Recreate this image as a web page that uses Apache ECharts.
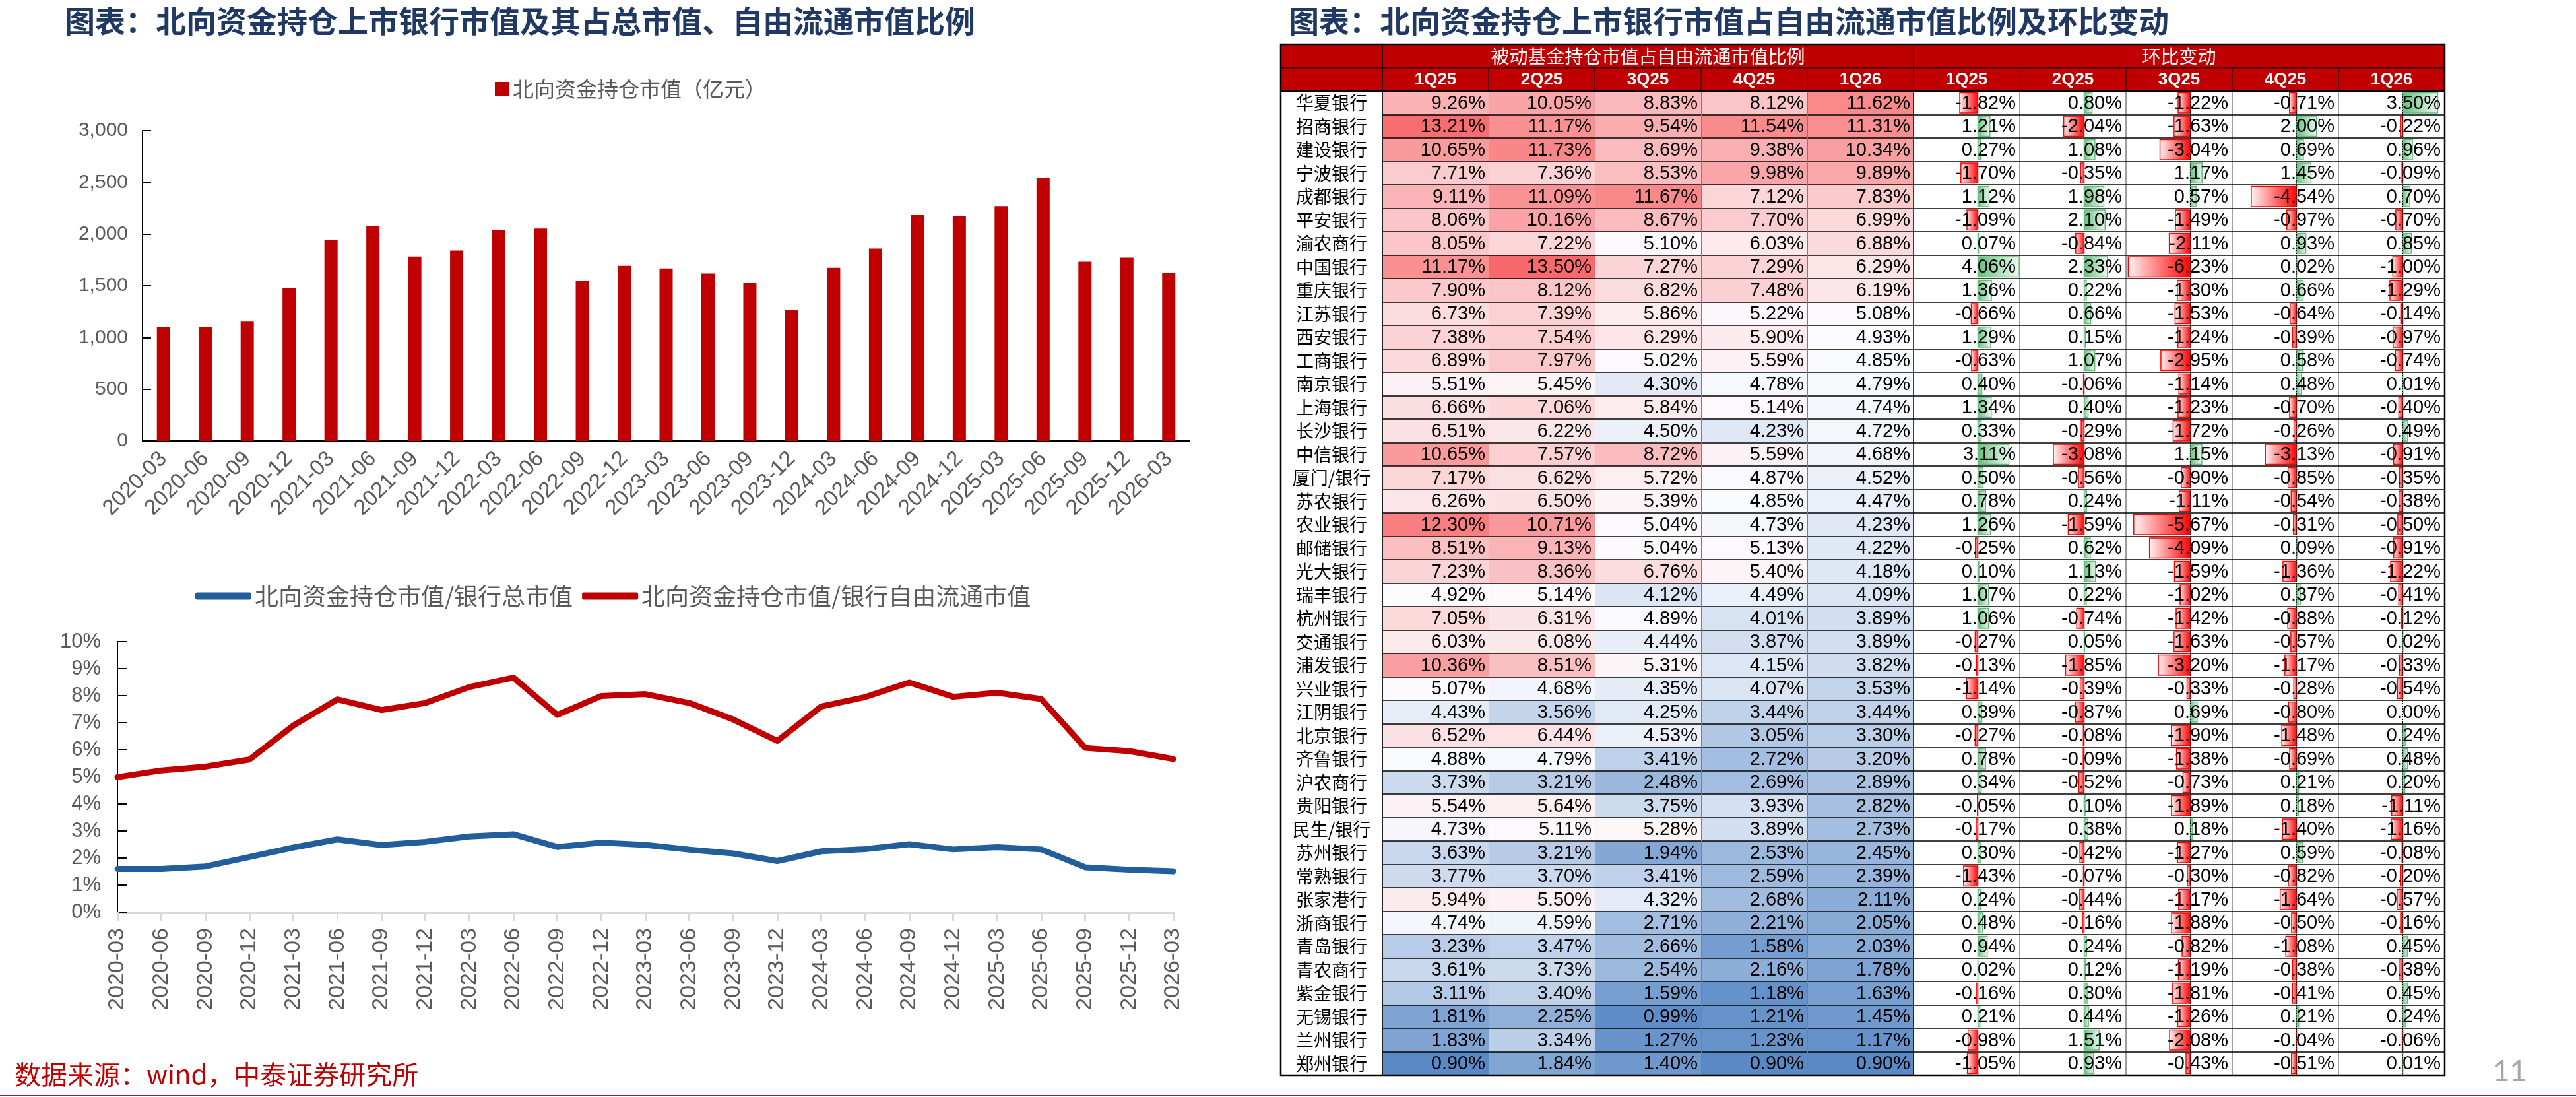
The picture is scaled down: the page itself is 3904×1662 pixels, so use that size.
<!DOCTYPE html>
<html>
<head>
<meta charset="utf-8">
<script src="https://cdn.jsdelivr.net/npm/echarts@6/dist/echarts.min.js"></script>
<style>
  html, body { margin: 0; padding: 0; background: #fff; }
  #main { width: 3904px; height: 1662px; }
</style>
</head>
<body>
<div id="main"></div>
<script>
// 左侧：北向资金持仓市值及比例
var dates = ['2020-03', '2020-06', '2020-09', '2020-12', '2021-03', '2021-06', '2021-09', '2021-12',
  '2022-03', '2022-06', '2022-09', '2022-12', '2023-03', '2023-06', '2023-09', '2023-12',
  '2024-03', '2024-06', '2024-09', '2024-12', '2025-03', '2025-06', '2025-09', '2025-12', '2026-03'];
var holdValue = [1104, 1104, 1153, 1480, 1942, 2080, 1782, 1841, 2041, 2054, 1546, 1693, 1667,
  1618, 1526, 1271, 1674, 1860, 2188, 2175, 2270, 2542, 1733, 1772, 1628];
var ratioTotal = [1.60, 1.60, 1.69, 2.04, 2.39, 2.69, 2.48, 2.60, 2.80, 2.88, 2.41, 2.57, 2.49,
  2.31, 2.17, 1.89, 2.25, 2.33, 2.51, 2.32, 2.40, 2.32, 1.66, 1.57, 1.51];
var ratioFree = [4.99, 5.24, 5.38, 5.64, 6.90, 7.86, 7.47, 7.73, 8.32, 8.67, 7.29, 7.99, 8.06,
  7.73, 7.12, 6.33, 7.60, 7.95, 8.49, 7.96, 8.11, 7.88, 6.07, 5.95, 5.66];

// 右侧表格
var banks = ['华夏银行', '招商银行', '建设银行', '宁波银行', '成都银行', '平安银行', '渝农商行', '中国银行',
  '重庆银行', '江苏银行', '西安银行', '工商银行', '南京银行', '上海银行', '长沙银行', '中信银行',
  '厦门/银行', '苏农银行', '农业银行', '邮储银行', '光大银行', '瑞丰银行', '杭州银行', '交通银行',
  '浦发银行', '兴业银行', '江阴银行', '北京银行', '齐鲁银行', '沪农商行', '贵阳银行', '民生/银行',
  '苏州银行', '常熟银行', '张家港行', '浙商银行', '青岛银行', '青农商行', '紫金银行', '无锡银行',
  '兰州银行', '郑州银行'];
var quarters = ['1Q25', '2Q25', '3Q25', '4Q25', '1Q26'];

var r1Q25 = [9.26, 13.21, 10.65, 7.71, 9.11, 8.06, 8.05, 11.17, 7.90, 6.73, 7.38, 6.89, 5.51, 6.66, 6.51, 10.65,
  7.17, 6.26, 12.30, 8.51, 7.23, 4.92, 7.05, 6.03, 10.36, 5.07, 4.43, 6.52, 4.88, 3.73, 5.54, 4.73,
  3.63, 3.77, 5.94, 4.74, 3.23, 3.61, 3.11, 1.81, 1.83, 0.90];
var r2Q25 = [10.05, 11.17, 11.73, 7.36, 11.09, 10.16, 7.22, 13.50, 8.12, 7.39, 7.54, 7.97, 5.45, 7.06, 6.22, 7.57,
  6.62, 6.50, 10.71, 9.13, 8.36, 5.14, 6.31, 6.08, 8.51, 4.68, 3.56, 6.44, 4.79, 3.21, 5.64, 5.11,
  3.21, 3.70, 5.50, 4.59, 3.47, 3.73, 3.40, 2.25, 3.34, 1.84];
var r3Q25 = [8.83, 9.54, 8.69, 8.53, 11.67, 8.67, 5.10, 7.27, 6.82, 5.86, 6.29, 5.02, 4.30, 5.84, 4.50, 8.72,
  5.72, 5.39, 5.04, 5.04, 6.76, 4.12, 4.89, 4.44, 5.31, 4.35, 4.25, 4.53, 3.41, 2.48, 3.75, 5.28,
  1.94, 3.41, 4.32, 2.71, 2.66, 2.54, 1.59, 0.99, 1.27, 1.40];
var r4Q25 = [8.12, 11.54, 9.38, 9.98, 7.12, 7.70, 6.03, 7.29, 7.48, 5.22, 5.90, 5.59, 4.78, 5.14, 4.23, 5.59,
  4.87, 4.85, 4.73, 5.13, 5.40, 4.49, 4.01, 3.87, 4.15, 4.07, 3.44, 3.05, 2.72, 2.69, 3.93, 3.89,
  2.53, 2.59, 2.68, 2.21, 1.58, 2.16, 1.18, 1.21, 1.23, 0.90];
var r1Q26 = [11.62, 11.31, 10.34, 9.89, 7.83, 6.99, 6.88, 6.29, 6.19, 5.08, 4.93, 4.85, 4.79, 4.74, 4.72, 4.68,
  4.52, 4.47, 4.23, 4.22, 4.18, 4.09, 3.89, 3.89, 3.82, 3.53, 3.44, 3.30, 3.20, 2.89, 2.82, 2.73,
  2.45, 2.39, 2.11, 2.05, 2.03, 1.78, 1.63, 1.45, 1.17, 0.90];

var c1Q25 = [-1.82, 1.21, 0.27, -1.70, 1.12, -1.09, 0.07, 4.06, 1.36, -0.66, 1.29, -0.63, 0.40, 1.34, 0.33, 3.11,
  0.50, 0.78, 1.26, -0.25, 0.10, 1.07, 1.06, -0.27, -0.13, -1.14, 0.39, -0.27, 0.78, 0.34, -0.05, -0.17,
  0.30, -1.43, 0.24, 0.48, 0.94, 0.02, -0.16, 0.21, -0.98, -1.05];
var c2Q25 = [0.80, -2.04, 1.08, -0.35, 1.98, 2.10, -0.84, 2.33, 0.22, 0.66, 0.15, 1.07, -0.06, 0.40, -0.29, -3.08,
  -0.56, 0.24, -1.59, 0.62, 1.13, 0.22, -0.74, 0.05, -1.85, -0.39, -0.87, -0.08, -0.09, -0.52, 0.10, 0.38,
  -0.42, -0.07, -0.44, -0.16, 0.24, 0.12, 0.30, 0.44, 1.51, 0.93];
var c3Q25 = [-1.22, -1.63, -3.04, 1.17, 0.57, -1.49, -2.11, -6.23, -1.30, -1.53, -1.24, -2.95, -1.14, -1.23, -1.72, 1.15,
  -0.90, -1.11, -5.67, -4.09, -1.59, -1.02, -1.42, -1.63, -3.20, -0.33, 0.69, -1.90, -1.38, -0.73, -1.89, 0.18,
  -1.27, -0.30, -1.17, -1.88, -0.82, -1.19, -1.81, -1.26, -2.08, -0.43];
var c4Q25 = [-0.71, 2.00, 0.69, 1.45, -4.54, -0.97, 0.93, 0.02, 0.66, -0.64, -0.39, 0.58, 0.48, -0.70, -0.26, -3.13,
  -0.85, -0.54, -0.31, 0.09, -1.36, 0.37, -0.88, -0.57, -1.17, -0.28, -0.80, -1.48, -0.69, 0.21, 0.18, -1.40,
  0.59, -0.82, -1.64, -0.50, -1.08, -0.38, -0.41, 0.21, -0.04, -0.51];
var c1Q26 = [3.50, -0.22, 0.96, -0.09, 0.70, -0.70, 0.85, -1.00, -1.29, -0.14, -0.97, -0.74, 0.01, -0.40, 0.49, -0.91,
  -0.35, -0.38, -0.50, -0.91, -1.22, -0.41, -0.12, 0.02, -0.33, -0.54, 0.00, 0.24, 0.48, 0.20, -1.11, -1.16,
  -0.08, -0.20, -0.57, -0.16, 0.45, -0.38, 0.45, 0.24, -0.06, 0.01];

var ratioCols = [r1Q25, r2Q25, r3Q25, r4Q25, r1Q26];
var changeCols = [c1Q25, c2Q25, c3Q25, c4Q25, c1Q26];

// 表格位置
var tLeft = 1941, tTop = 67, rowH = 35.5, nameW = 154, colW = 161;
var bodyTop = tTop + rowH * 2, bodyH = rowH * banks.length;
var heatLeft = tLeft + nameW, chgLeft = heatLeft + colW * 5, tRight = chgLeft + colW * 5;
var numFont = "'Liberation Sans Narrow','Liberation Sans',sans-serif";
var cjk = "'Noto Sans CJK SC',sans-serif";

// 三色阶：最小值蓝、中位数白、最大值红
var allR = [].concat(r1Q25, r2Q25, r3Q25, r4Q25, r1Q26).sort(function (a, b) { return a - b; });
var rMin = allR[0], rMax = allR[allR.length - 1];
var rMid = (allR[allR.length / 2 - 1] + allR[allR.length / 2]) / 2;
function mix(a, b, t) {
  return 'rgb(' + [0, 1, 2].map(function (i) { return Math.round(a[i] + (b[i] - a[i]) * t); }).join(',') + ')';
}
function heatColor(v) {
  var lo = [0x5A, 0x8A, 0xC6], mid = [0xFC, 0xFC, 0xFF], hi = [0xF8, 0x69, 0x6B];
  if (v <= rMid) return mix(lo, mid, (v - rMin) / (rMid - rMin));
  return mix(mid, hi, (v - rMid) / (rMax - rMid));
}

var heatData = [];
ratioCols.forEach(function (col, qi) {
  col.forEach(function (v, bi) { heatData.push([qi, bi, v]); });
});

function renderHeat(params, api) {
  var c = api.coord([api.value(0), api.value(1)]);
  var s = api.size([1, 1]);
  var v = api.value(2);
  return {
    type: 'group',
    children: [{
      type: 'rect',
      shape: { x: c[0] - s[0] / 2, y: c[1] - s[1] / 2, width: s[0], height: s[1] },
      style: { fill: heatColor(v) }
    }, {
      type: 'text',
      style: {
        x: c[0] + s[0] / 2 - 5, y: c[1] + 1, text: v.toFixed(2) + '%',
        align: 'right', verticalAlign: 'middle',
        fontSize: 29, fontFamily: numFont, fill: '#000'
      }
    }]
  };
}

function renderChange(params, api) {
  var v = api.value(0), yi = api.value(1);
  var p0 = api.coord([0, yi]);
  var p1 = api.coord([v, yi]);
  var h = api.size([0, 1])[1];
  var cs = params.coordSys;
  var x0 = Math.min(p0[0], p1[0]), w = Math.abs(p1[0] - p0[0]);
  var neg = v < 0;
  var fill = neg
    ? new echarts.graphic.LinearGradient(0, 0, 1, 0, [{ offset: 0, color: '#FFF4F4' }, { offset: 1, color: '#FF0000' }])
    : new echarts.graphic.LinearGradient(0, 0, 1, 0, [{ offset: 0, color: '#63BE7B' }, { offset: 1, color: '#F0F9F2' }]);
  var kids = [];
  if (w > 0) {
    kids.push({
      type: 'rect',
      shape: { x: x0, y: p0[1] - h / 2 + 2.5, width: w, height: h - 5 },
      style: { fill: fill, stroke: neg ? '#FF0000' : '#63BE7B', lineWidth: 1.5 }
    });
  }
  kids.push({
    type: 'line',
    shape: { x1: p0[0], y1: p0[1] - h / 2, x2: p0[0], y2: p0[1] + h / 2 },
    style: { stroke: '#000', lineWidth: 1, lineDash: [2, 2] }
  });
  kids.push({
    type: 'text',
    style: {
      x: cs.x + cs.width - 6, y: p0[1] + 1, text: v.toFixed(2) + '%',
      align: 'right', verticalAlign: 'middle',
      fontSize: 29, fontFamily: numFont, fill: '#000'
    }
  });
  return { type: 'group', children: kids };
}

var grids = [
  { left: 216, top: 198, width: 1587, height: 470 },
  { left: 178, top: 972, width: 1600, height: 410 },
  { left: heatLeft, top: bodyTop, width: colW * 5, height: bodyH }
];
var xAxes = [{
  type: 'category', gridIndex: 0, data: dates,
  axisLine: { lineStyle: { color: '#000', width: 2 } },
  axisTick: { inside: true, length: 10, lineStyle: { color: '#000', width: 2 } },
  axisLabel: { rotate: 45, margin: 22, fontSize: 33, color: '#595959', fontFamily: 'Liberation Sans', interval: 0 }
}, {
  type: 'category', gridIndex: 1, data: dates, boundaryGap: false,
  axisLine: { lineStyle: { color: '#D9D9D9', width: 3 } },
  axisTick: { length: 13, lineStyle: { color: '#D9D9D9', width: 3 }, interval: 0 },
  axisLabel: { rotate: 90, margin: 24, fontSize: 34, color: '#595959', fontFamily: 'Liberation Sans', interval: 0 }
}, {
  type: 'category', gridIndex: 2, data: quarters, z: 5,
  axisLine: { show: false }, axisTick: { show: false }, axisLabel: { show: false },
  splitLine: { show: true, interval: 0, lineStyle: { color: '#7F7F7F', width: 1 } }
}];
var yAxes = [{
  type: 'value', gridIndex: 0, min: 0, max: 3000, interval: 500,
  axisLine: { show: true, lineStyle: { color: '#000', width: 2 } },
  axisTick: { show: true, inside: true, length: 13, lineStyle: { color: '#000', width: 2 } },
  splitLine: { show: false },
  axisLabel: {
    margin: 22, fontSize: 30, color: '#595959', fontFamily: 'Liberation Sans',
    formatter: function (v) { return String(v).replace(/\B(?=(\d{3})+(?!\d))/g, ','); }
  }
}, {
  type: 'value', gridIndex: 1, min: 0, max: 10, interval: 1,
  axisLine: { show: true, lineStyle: { color: '#000', width: 2 } },
  axisTick: { show: true, inside: true, length: 14, lineStyle: { color: '#000', width: 2 } },
  splitLine: { show: false },
  axisLabel: { margin: 25, fontSize: 31, color: '#595959', fontFamily: 'Liberation Sans', formatter: '{value}%' }
}, {
  type: 'category', gridIndex: 2, data: banks, inverse: true, z: 5,
  axisLine: { show: false }, axisTick: { show: false },
  axisLabel: { interval: 0, margin: 77, align: 'center', fontSize: 27, color: '#000', fontFamily: cjk },
  splitLine: { show: true, interval: 0, lineStyle: { color: '#000', width: 1.5 } }
}];

var series = [{
  name: '北向资金持仓市值（亿元）', type: 'bar', xAxisIndex: 0, yAxisIndex: 0,
  data: holdValue, barWidth: 20, itemStyle: { color: '#C00000' }
}, {
  name: '北向资金持仓市值/银行总市值', type: 'line', xAxisIndex: 1, yAxisIndex: 1,
  data: ratioTotal, symbol: 'none', color: '#215E9B',
  lineStyle: { width: 9, color: '#215E9B', cap: 'round', join: 'round' }, itemStyle: { color: '#215E9B' }
}, {
  name: '北向资金持仓市值/银行自由流通市值', type: 'line', xAxisIndex: 1, yAxisIndex: 1,
  data: ratioFree, symbol: 'none', color: '#C00000',
  lineStyle: { width: 9, color: '#C00000', cap: 'round', join: 'round' }, itemStyle: { color: '#C00000' }
}, {
  type: 'custom', xAxisIndex: 2, yAxisIndex: 2, data: heatData, renderItem: renderHeat, z: 2
}];

changeCols.forEach(function (col, i) {
  grids.push({ left: chgLeft + colW * i, top: bodyTop, width: colW, height: bodyH,
    show: true, borderColor: '#7F7F7F', borderWidth: 1 });
  xAxes.push({
    type: 'value', gridIndex: 3 + i, min: -6.45, max: 4.2,
    axisLine: { show: false }, axisTick: { show: false }, axisLabel: { show: false }, splitLine: { show: false }
  });
  yAxes.push({
    type: 'category', gridIndex: 3 + i, data: banks, inverse: true, z: 5,
    axisLine: { show: false }, axisTick: { show: false }, axisLabel: { show: false },
    splitLine: { show: true, interval: 0, lineStyle: { color: '#000', width: 1.5 } }
  });
  series.push({
    type: 'custom', xAxisIndex: 3 + i, yAxisIndex: 3 + i,
    data: col.map(function (v, bi) { return [v, bi]; }),
    renderItem: renderChange
  });
});

// 表头与框线
var g = [];
g.push({ type: 'rect', z: 50, shape: { x: tLeft, y: tTop, width: tRight - tLeft, height: rowH * 2 }, style: { fill: '#C00000' } });
g.push({ type: 'line', z: 60, shape: { x1: tLeft, y1: tTop + rowH, x2: tRight, y2: tTop + rowH }, style: { stroke: '#3A0000', lineWidth: 2 } });
for (var i = 1; i < 10; i++) {
  if (i === 5) continue;
  var xx = heatLeft + colW * i;
  g.push({ type: 'line', z: 60, shape: { x1: xx, y1: tTop + rowH, x2: xx, y2: bodyTop }, style: { stroke: '#3A0000', lineWidth: 1.5 } });
}
[heatLeft, chgLeft].forEach(function (xx) {
  g.push({ type: 'line', z: 60, shape: { x1: xx, y1: tTop, x2: xx, y2: bodyTop + bodyH }, style: { stroke: '#000', lineWidth: 1.5 } });
});
g.push({ type: 'line', z: 60, shape: { x1: tLeft, y1: bodyTop, x2: tRight, y2: bodyTop }, style: { stroke: '#000', lineWidth: 2.5 } });
g.push({ type: 'rect', z: 60, shape: { x: tLeft, y: tTop, width: tRight - tLeft, height: bodyTop + bodyH - tTop }, style: { fill: 'none', stroke: '#000', lineWidth: 2.5 } });
g.push({ type: 'text', z: 61, x: heatLeft + colW * 2.5, y: tTop + rowH / 2 + 1,
  style: { text: '被动基金持仓市值占自由流通市值比例', align: 'center', verticalAlign: 'middle', fontSize: 28, fontFamily: cjk, fill: '#fff' } });
g.push({ type: 'text', z: 61, x: chgLeft + colW * 2.5, y: tTop + rowH / 2 + 1,
  style: { text: '环比变动', align: 'center', verticalAlign: 'middle', fontSize: 28, fontFamily: cjk, fill: '#fff' } });
quarters.concat(quarters).forEach(function (q, k) {
  g.push({ type: 'text', z: 61, x: heatLeft + colW * (k + 0.5), y: tTop + rowH * 1.5 + 1,
    style: { text: q, align: 'center', verticalAlign: 'middle', fontSize: 26, fontWeight: 'bold', fontFamily: 'Liberation Sans', fill: '#fff' } });
});
g.push({ type: 'text', z: 61, x: 22, y: 1628,
  style: { text: '数据来源：wind，中泰证券研究所', verticalAlign: 'middle', fontSize: 40, fontFamily: cjk, fill: '#C00000' } });
g.push({ type: 'text', z: 61, x: 3778, y: 1624,
  style: { text: '11', verticalAlign: 'middle', fontSize: 44, fontFamily: 'Lato', fill: '#A6A6A6' } });
g.push({ type: 'line', z: 61, shape: { x1: 0, y1: 1660, x2: 3904, y2: 1660 }, style: { stroke: '#A6192E', lineWidth: 2 } });

var chart = echarts.init(document.getElementById('main'));
chart.setOption({
  animation: false,
  backgroundColor: '#fff',
  title: [{
    text: '图表：北向资金持仓上市银行市值及其占总市值、自由流通市值比例', left: 98, top: 9, padding: 0,
    textStyle: { fontSize: 46, fontWeight: 'bold', color: '#1F3864', fontFamily: cjk }
  }, {
    text: '图表：北向资金持仓上市银行市值占自由流通市值比例及环比变动', left: 1953, top: 9, padding: 0,
    textStyle: { fontSize: 46, fontWeight: 'bold', color: '#1F3864', fontFamily: cjk }
  }],
  legend: [{
    data: ['北向资金持仓市值（亿元）'], left: 745, top: 114, icon: 'rect', itemWidth: 22, itemHeight: 22,
    textStyle: { fontSize: 32, color: '#595959', fontFamily: cjk }
  }, {
    data: ['北向资金持仓市值/银行总市值', '北向资金持仓市值/银行自由流通市值'], left: 291, top: 880,
    icon: 'roundRect', itemWidth: 85, itemHeight: 11, itemGap: 14,
    textStyle: { fontSize: 36, color: '#595959', fontFamily: cjk }
  }],
  grid: grids,
  xAxis: xAxes,
  yAxis: yAxes,
  series: series,
  graphic: g
});
</script>
</body>
</html>
